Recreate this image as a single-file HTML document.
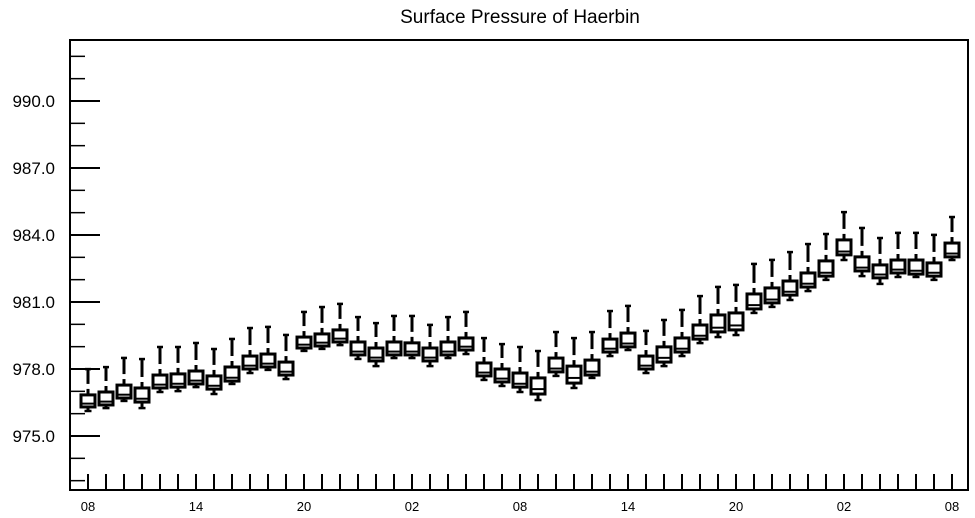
<!DOCTYPE html>
<html><head><meta charset="utf-8"><style>
body{margin:0;background:#fff}
svg{display:block;font-family:"Liberation Sans",sans-serif}
</style></head><body>
<svg id="chart" width="975" height="518" viewBox="0 0 975 518" xmlns="http://www.w3.org/2000/svg">
<text x="520" y="23" text-anchor="middle" font-size="19">Surface Pressure of Haerbin</text>
<g id="plot"></g>
<rect x="70" y="40" width="898" height="450" fill="none" stroke="#000" stroke-width="2"/>
</svg>
<script>
const hiVals=[978.04,978.13,978.54,978.49,979.03,979.03,979.21,978.94,979.39,979.88,979.93,979.57,980.60,980.82,980.96,980.37,980.10,980.42,980.42,980.02,980.37,980.60,979.43,979.16,979.03,978.85,979.70,979.43,979.70,980.64,980.87,979.75,980.24,980.69,981.31,981.72,981.81,982.75,982.93,983.28,983.64,984.09,985.07,984.36,983.91,984.14,984.14,984.05,984.85];
const q3Vals=[976.84,976.97,977.28,977.15,977.73,977.78,977.91,977.69,978.09,978.58,978.67,978.31,979.43,979.57,979.75,979.21,978.94,979.21,979.17,978.94,979.21,979.39,978.27,978.00,977.82,977.60,978.49,978.13,978.40,979.34,979.61,978.58,978.99,979.39,979.97,980.42,980.51,981.36,981.63,981.94,982.30,982.84,983.78,983.02,982.66,982.88,982.88,982.75,983.64];
const medVals=[976.45,976.54,976.85,976.67,977.30,977.34,977.48,977.25,977.61,978.15,978.24,977.88,979.09,979.18,979.36,978.78,978.51,978.78,978.78,978.51,978.78,979.00,977.84,977.57,977.34,977.10,978.02,977.60,977.88,978.91,979.14,978.15,978.50,978.91,979.49,979.85,979.95,980.86,981.11,981.46,981.82,982.31,983.26,982.54,982.23,982.45,982.40,982.31,983.17];
const q1Vals=[976.30,976.39,976.70,976.52,977.15,977.19,977.33,977.10,977.46,978.00,978.09,977.73,978.94,979.03,979.21,978.63,978.36,978.63,978.63,978.36,978.63,978.85,977.69,977.42,977.19,976.88,977.87,977.37,977.73,978.76,978.99,978.00,978.31,978.76,979.34,979.66,979.75,980.69,980.96,981.31,981.67,982.16,983.11,982.39,982.08,982.30,982.25,982.16,983.02];
const loVals=[976.12,976.25,976.57,976.25,976.97,977.01,977.19,976.88,977.33,977.82,977.96,977.55,978.81,978.90,979.07,978.45,978.13,978.49,978.49,978.13,978.49,978.67,977.51,977.24,976.97,976.61,977.69,977.15,977.60,978.58,978.85,977.82,978.13,978.58,979.16,979.43,979.52,980.51,980.78,981.09,981.49,981.99,982.88,982.16,981.81,982.12,982.12,981.99,982.88];
const yTickLabels=["975.0","978.0","981.0","984.0","987.0","990.0"];
const yTickValues=[975,978,981,984,987,990];
const xTickLabels=["08","14","20","02","08","14","20","02","08"];

const NS="http://www.w3.org/2000/svg";
const plot=document.getElementById('plot');
const yScale=v=>369-(v-978)*(67/3);
const xScale=i=>88+i*18;
function mk(tag,attrs){const e=document.createElementNS(NS,tag);for(const k in attrs)e.setAttribute(k,attrs[k]);plot.appendChild(e);return e;}

// y ticks
for(let v=973;v<=992;v++){
  const y=yScale(v);const major=yTickValues.includes(v);
  const t=mk('line',{x1:70,x2:major?100:85,y1:y,y2:y,stroke:'#000','stroke-width':major?2:1.5});
  
  
}
yTickLabels.forEach((s,i)=>{
  const t=mk('text',{x:55,y:yScale(yTickValues[i])+6,'text-anchor':'end','font-size':17});
  t.textContent=s;
  
  
});
// x ticks
for(let i=0;i<hiVals.length;i++){
  const t=mk('line',{x1:xScale(i),x2:xScale(i),y1:490,y2:474,stroke:'#000','stroke-width':2});
  
  
}
xTickLabels.forEach((s,i)=>{
  const t=mk('text',{x:xScale(i*6),y:511,'text-anchor':'middle','font-size':13});
  t.textContent=s;
  
  
});
// boxes
for(let i=0;i<hiVals.length;i++){
  const x=xScale(i);
  const yh=yScale(hiVals[i]),y3=yScale(q3Vals[i]),ym=yScale(medVals[i]),y1=yScale(q1Vals[i]),yl=yScale(loVals[i]);
  const g=document.createElementNS(NS,'g');plot.appendChild(g);
  
  
  const add=(tag,a)=>{const e=document.createElementNS(NS,tag);for(const k in a)e.setAttribute(k,a[k]);g.appendChild(e);return e;};
  add('line',{x1:x,x2:x,y1:yh,y2:Math.max(yh,y3-11),stroke:'#000','stroke-width':3});
  add('line',{x1:x,x2:x,y1:y3-6,y2:y3,stroke:'#000','stroke-width':3});
  add('line',{x1:x-3,x2:x+3,y1:yh+1,y2:yh+1,stroke:'#000','stroke-width':2.5});
  add('line',{x1:x,x2:x,y1:y1,y2:yl,stroke:'#000','stroke-width':3});
  add('line',{x1:x-3.5,x2:x+3.5,y1:yl,y2:yl,stroke:'#000','stroke-width':2.5});
  add('rect',{x:x-7,y:y3,width:14,height:y1-y3,fill:'#fff',stroke:'#000','stroke-width':3});
  add('line',{x1:x-7,x2:x+7,y1:ym,y2:ym,stroke:'#000','stroke-width':2});
}
</script>
</body></html>
